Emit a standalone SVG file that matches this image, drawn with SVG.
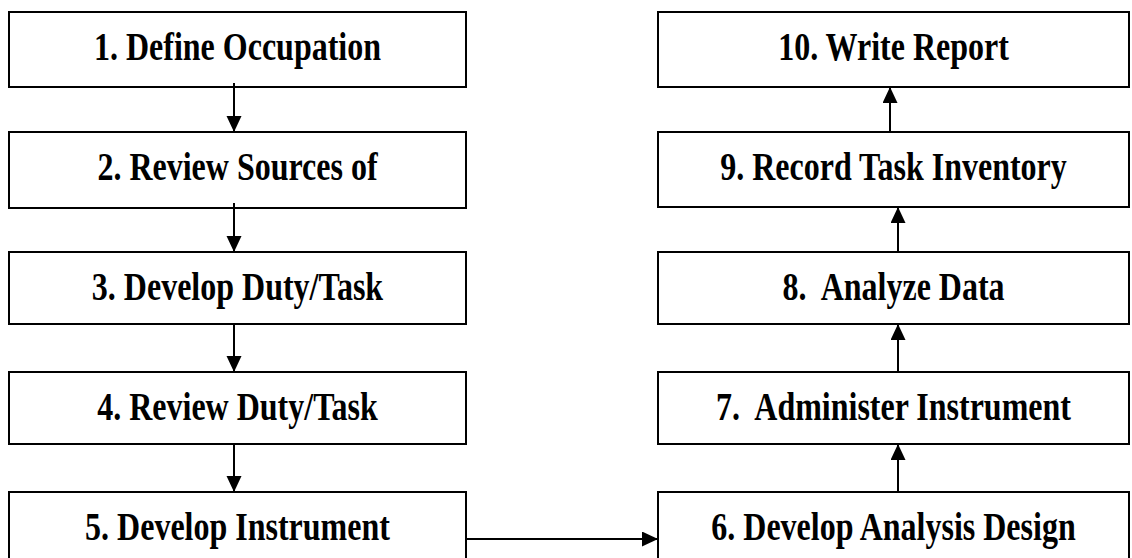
<svg xmlns="http://www.w3.org/2000/svg" width="1132" height="558" viewBox="0 0 1132 558">
<style>
.box{fill:#fff;stroke:#000;stroke-width:2}
.lbl{font-family:"Liberation Serif","Times New Roman",serif;font-weight:bold;font-size:32px;fill:#000;text-anchor:middle;white-space:pre}
.con{stroke:#000;stroke-width:2;fill:none}
</style>
<defs>
<marker id="ah" markerUnits="userSpaceOnUse" markerWidth="17" markerHeight="16" refX="16" refY="7.5" orient="auto">
<path d="M0,0 L16,7.5 L0,15 Z" fill="#000"/>
</marker>
</defs>
<rect width="1132" height="558" fill="#fff"/>
<g id="n1"><rect class="box" x="9" y="12" width="457" height="75"/><text class="lbl" transform="translate(237.5,60) scale(1,1.22)">1. Define Occupation</text></g>
<g id="n2"><rect class="box" x="9" y="132" width="457" height="76"/><text class="lbl" transform="translate(237.5,180) scale(1,1.22)">2. Review Sources of</text></g>
<g id="n3"><rect class="box" x="9" y="252" width="457" height="72"/><text class="lbl" transform="translate(237.5,300) scale(1,1.22)">3. Develop Duty/Task</text></g>
<g id="n4"><rect class="box" x="9" y="372" width="457" height="72"/><text class="lbl" transform="translate(237.5,420) scale(1,1.22)">4. Review Duty/Task</text></g>
<g id="n5"><rect class="box" x="9" y="492" width="457" height="80"/><text class="lbl" transform="translate(237.5,540) scale(1,1.22)">5. Develop Instrument</text></g>
<g id="n6"><rect class="box" x="658" y="492" width="471" height="80"/><text class="lbl" transform="translate(893.5,540) scale(1,1.22)">6. Develop Analysis Design</text></g>
<g id="n7"><rect class="box" x="658" y="372" width="471" height="72"/><text class="lbl" transform="translate(893.5,420) scale(1,1.22)">7.  Administer Instrument</text></g>
<g id="n8"><rect class="box" x="658" y="252" width="471" height="72"/><text class="lbl" transform="translate(893.5,300) scale(1,1.22)">8.  Analyze Data</text></g>
<g id="n9"><rect class="box" x="658" y="132" width="471" height="75"/><text class="lbl" transform="translate(893.5,180) scale(1,1.22)">9. Record Task Inventory</text></g>
<g id="n10"><rect class="box" x="658" y="12" width="471" height="75"/><text class="lbl" transform="translate(893.5,60) scale(1,1.22)">10. Write Report</text></g>
<g id="connectors">
<line class="con" x1="234" y1="83" x2="234" y2="132" marker-end="url(#ah)"/>
<line class="con" x1="234" y1="203" x2="234" y2="252" marker-end="url(#ah)"/>
<line class="con" x1="234" y1="324" x2="234" y2="372" marker-end="url(#ah)"/>
<line class="con" x1="234" y1="444" x2="234" y2="492" marker-end="url(#ah)"/>
<line class="con" x1="466" y1="539" x2="658" y2="539" marker-end="url(#ah)"/>
<line class="con" x1="898" y1="492" x2="898" y2="444" marker-end="url(#ah)"/>
<line class="con" x1="898" y1="372" x2="898" y2="324" marker-end="url(#ah)"/>
<line class="con" x1="898" y1="252" x2="898" y2="207" marker-end="url(#ah)"/>
<line class="con" x1="890" y1="132" x2="890" y2="87" marker-end="url(#ah)"/>
</g>
</svg>
